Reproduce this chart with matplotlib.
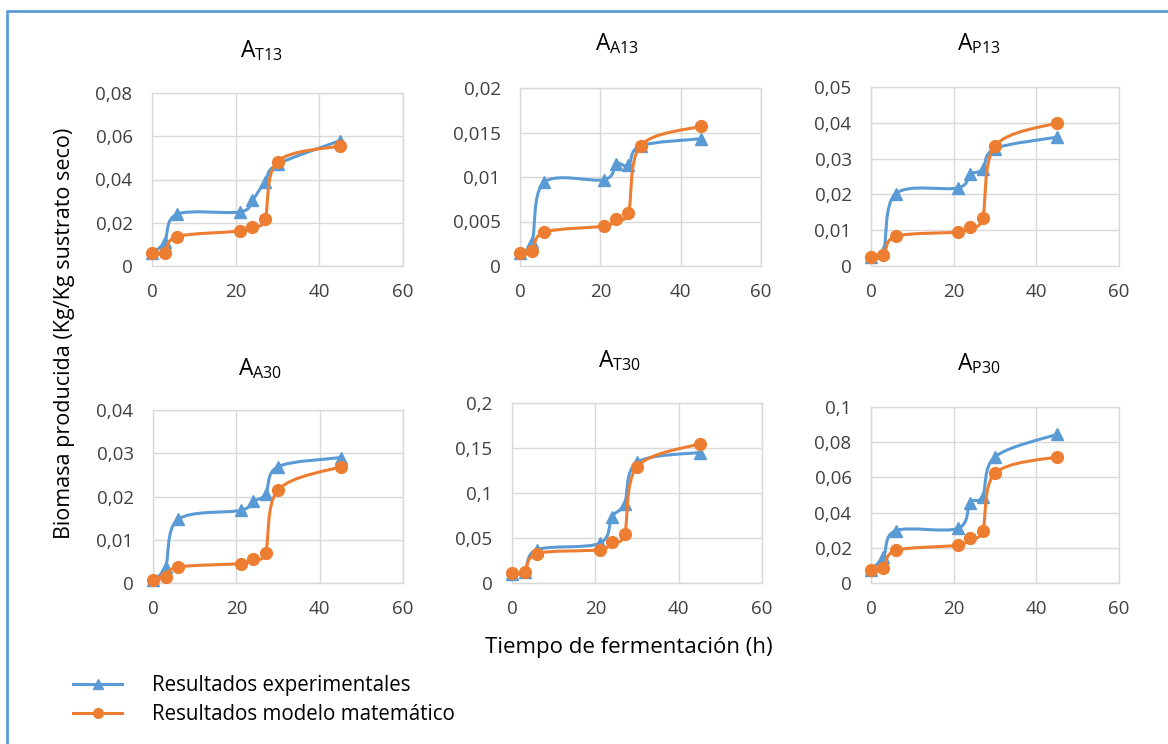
import numpy as np
import matplotlib
matplotlib.use('Agg')
import matplotlib.pyplot as plt
from matplotlib.path import Path
from matplotlib.patches import PathPatch
from matplotlib.lines import Line2D
from matplotlib.ticker import MultipleLocator, FuncFormatter

plt.rcParams['font.family'] = ['Open Sans', 'DejaVu Sans']
plt.rcParams['mathtext.fontset'] = 'custom'
plt.rcParams['mathtext.rm'] = 'Open Sans'

# ---------------- data ----------------
time_h = [0, 3, 6, 21, 24, 27, 30, 45]

panel_subs = ['T13', 'A13', 'P13', 'A30', 'T30', 'P30']

exp_T13 = [0.006, 0.011, 0.024, 0.025, 0.0305, 0.039, 0.047, 0.058]
mod_T13 = [0.0058, 0.0062, 0.0136, 0.0162, 0.0182, 0.0216, 0.0483, 0.0555]

exp_A13 = [0.0015, 0.0027, 0.0094, 0.0097, 0.0115, 0.0113, 0.0135, 0.0143]
mod_A13 = [0.0015, 0.0017, 0.0038, 0.0045, 0.0053, 0.006, 0.0135, 0.0157]

exp_P13 = [0.0025, 0.004, 0.0202, 0.0218, 0.0256, 0.027, 0.0328, 0.036]
mod_P13 = [0.0025, 0.003, 0.0083, 0.0095, 0.011, 0.0134, 0.0335, 0.040]

exp_A30 = [0.0008, 0.0037, 0.0147, 0.0168, 0.0189, 0.0205, 0.0269, 0.029]
mod_A30 = [0.0008, 0.0014, 0.0037, 0.0045, 0.0056, 0.007, 0.0215, 0.0269]

exp_T30 = [0.0105, 0.0123, 0.037, 0.044, 0.0736, 0.088, 0.134, 0.145]
mod_T30 = [0.011, 0.012, 0.0327, 0.037, 0.0457, 0.054, 0.129, 0.1547]

exp_P30 = [0.0075, 0.015, 0.0298, 0.031, 0.0457, 0.049, 0.0717, 0.0845]
mod_P30 = [0.0072, 0.0085, 0.0185, 0.0215, 0.0255, 0.0295, 0.0623, 0.0717]

exp_all = [exp_T13, exp_A13, exp_P13, exp_A30, exp_T30, exp_P30]
mod_all = [mod_T13, mod_A13, mod_P13, mod_A30, mod_T30, mod_P30]

y_max = [0.08, 0.02, 0.05, 0.04, 0.2, 0.1]
y_step = [0.02, 0.005, 0.01, 0.01, 0.05, 0.02]
x_ticks = [0, 20, 40, 60]

series_labels = ['Resultados experimentales', 'Resultados modelo matemático']
x_label = 'Tiempo de fermentación (h)'
y_label = 'Biomasa producida (Kg/Kg sustrato seco)'

# ---------------- style ----------------
BLUE = '#5B9BD5'
ORANGE = '#ED7D31'
GRID = '#D9D9D9'
TXT = '#404040'

W, H = 1168, 744
fig = plt.figure(figsize=(W / 100, H / 100), dpi=100)

# axes boxes in pixels: left, right, top, bottom
boxes = [(152, 403, 93, 266), (520, 761, 88, 266), (871, 1119, 87, 266),
         (153, 403, 410, 583), (512, 762, 403, 583), (871, 1119, 407, 583)]
# title anchors (left x, baseline y) in pixels
title_pos = [(240, 57), (595, 50), (957, 50), (238, 375), (598, 367), (957, 370)]


def smooth_path(x, y, k=1.0 / 6.0):
    pts = np.column_stack([x, y]).astype(float)
    n = len(pts)
    verts = [pts[0]]
    codes = [Path.MOVETO]
    for i in range(n - 1):
        p0 = pts[i - 1] if i > 0 else pts[i]
        p1 = pts[i]
        p2 = pts[i + 1]
        p3 = pts[i + 2] if i + 2 < n else pts[i + 1]
        c1 = p1 + (p2 - p0) * k
        c2 = p2 - (p3 - p1) * k
        verts += [c1, c2, p2]
        codes += [Path.CURVE4] * 3
    return Path(verts, codes)


fmt = FuncFormatter(lambda v, p: ('%g' % round(v, 6)).replace('.', ','))

for i in range(6):
    l, r, t, b = boxes[i]
    ax = fig.add_axes([l / W, 1 - b / H, (r - l) / W, (b - t) / H])
    ax.set_xlim(0, 60)
    ax.set_ylim(0, y_max[i])
    ax.set_xticks(x_ticks)
    ax.yaxis.set_major_locator(MultipleLocator(y_step[i]))
    ax.yaxis.set_major_formatter(fmt)
    ax.grid(True, color=GRID, lw=1.0)
    ax.set_axisbelow(True)
    for s in ax.spines.values():
        s.set_color(GRID)
        s.set_linewidth(1.0)
    ax.tick_params(length=0, labelsize=13.5, labelcolor=TXT)
    ax.tick_params(axis='x', pad=12)
    ax.tick_params(axis='y', pad=14)

    for data, col, mk, ms, z in [(exp_all[i], BLUE, '^', 8, 3), (mod_all[i], ORANGE, 'o', 8.5, 4)]:
        ax.add_patch(PathPatch(smooth_path(time_h, data), facecolor='none',
                               edgecolor=col, lw=2.2, zorder=z, capstyle='round'))
        ax.plot(time_h, data, linestyle='none', marker=mk, ms=ms, color=col,
                mec=col, zorder=z + 0.5, clip_on=False)

    tx, ty = title_pos[i]
    fig.text(tx / W, 1 - ty / H, r'A$_{\mathrm{%s}}$' % panel_subs[i], fontsize=16.5,
             color='#000000', ha='left', va='baseline')

fig.text(629 / W, 1 - 647 / H, x_label, fontsize=16, ha='center', va='center', color='#000000')
fig.text(65 / W, 1 - 333 / H, y_label, fontsize=15.5, ha='center', va='center',
         rotation=90, color='#000000')

handles = [Line2D([], [], color=BLUE, lw=2.2, marker='^', ms=7),
           Line2D([], [], color=ORANGE, lw=2.2, marker='o', ms=7)]
fig.legend(handles, series_labels, loc='center left', frameon=False,
           bbox_to_anchor=(73 / W, 1 - 700 / H), fontsize=14.8, borderpad=0,
           handlelength=2.4, handletextpad=1.45, labelspacing=0.4, borderaxespad=0)

# page border (blue frame, left and top edges)
fig.add_artist(Line2D([7 / W, 7 / W, 1.0], [0.0, 1 - 11 / H, 1 - 11 / H],
                      transform=fig.transFigure, color=BLUE, lw=2.0))

fig.savefig('out.png', dpi=100, facecolor='white')
